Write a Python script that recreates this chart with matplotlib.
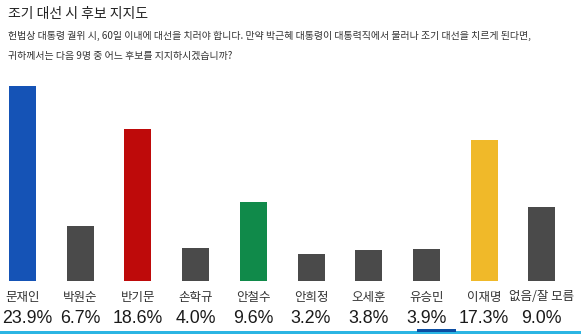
import matplotlib
matplotlib.use("Agg")
import matplotlib.pyplot as plt
from matplotlib.patches import Rectangle
from matplotlib.transforms import blended_transform_factory, offset_copy
from matplotlib import font_manager

categories = ["문재인", "박원순", "반기문", "손학규", "안철수", "안희정", "오세훈", "유승민", "이재명", "없음/잘 모름"]
values = [23.9, 6.7, 18.6, 4.0, 9.6, 3.2, 3.8, 3.9, 17.3, 9.0]
value_labels = ["23.9%", "6.7%", "18.6%", "4.0%", "9.6%", "3.2%", "3.8%", "3.9%", "17.3%", "9.0%"]
bar_colors = ["#1553B6", "#4A4A4A", "#BE0A0A", "#4A4A4A", "#108A4A",
              "#4A4A4A", "#4A4A4A", "#4A4A4A", "#F0B929", "#4A4A4A"]
title = "조기 대선 시 후보 지지도"
subtitle1 = "헌법상 대통령 궐위 시, 60일 이내에 대선을 치러야 합니다. 만약 박근혜 대통령이 대통력직에서 물러나 조기 대선을 치르게 된다면,"
subtitle2 = "귀하께서는 다음 9명 중 어느 후보를 지지하시겠습니까?"

KR = ["Noto Sans CJK KR", "DejaVu Sans"]
names = {f.name for f in font_manager.fontManager.ttflist}
NUM = ["Liberation Sans Narrow"] if "Liberation Sans Narrow" in names else ["Liberation Sans"]

W, H = 581, 334
fig = plt.figure(figsize=(W / 100, H / 100), dpi=100)
fig.patch.set_facecolor("white")

ax_bottom = (H - 280.5) / H
ax_top_px = 80
ax_h = (280.5 - ax_top_px) / H
ax = fig.add_axes([0, ax_bottom, 1, ax_h])
step = 57.7
c0 = 22.5
ax.set_xlim(-c0 / step, (W - c0) / step)
px_per_pct = 8.14
ax.set_ylim(0, (280.5 - ax_top_px) / px_per_pct)
x = list(range(len(categories)))
ax.bar(x, values, width=27 / step, color=bar_colors)
ax.axis("off")

def fy(py):
    return 1 - py / H

tr = blended_transform_factory(ax.transData, fig.transFigure)
val_texts = []
for i, (c, v) in enumerate(zip(categories, value_labels)):
    ax.text(i, fy(297), c, transform=tr, ha="center", va="center",
            fontsize=9.0, color="#333333", family=KR)
    t = ax.text(i, fy(318.5), v, transform=tr, ha="center", va="center",
                fontsize=12.8, color="#1a1a1a", family=NUM)
    val_texts.append(t)

fig.text(8 / W, fy(14), title, ha="left", va="center", fontsize=10,
         color="#222222", family=KR, weight="medium")
fig.text(8 / W, fy(36), subtitle1, ha="left", va="center", fontsize=7.15,
         color="#333333", family=KR)
fig.text(8 / W, fy(56), subtitle2, ha="left", va="center", fontsize=7.15,
         color="#333333", family=KR)

fig.add_artist(Rectangle((0, 0), 1, 3.3 / H, transform=fig.transFigure,
                         color="#2BB5E3", lw=0))
fig.add_artist(Rectangle((417 / W, fy(332)), 39 / W, 3.3 / H, transform=fig.transFigure,
                         color="#0B4DA2", lw=0))

# keep edge labels inside the canvas
fig.canvas.draw()
r = fig.canvas.get_renderer()
for t in val_texts:
    bb = t.get_window_extent(r)
    shift = 0
    if bb.x0 < 2:
        shift = 2 - bb.x0
    elif bb.x1 > W - 2:
        shift = (W - 2) - bb.x1
    if shift:
        t.set_transform(offset_copy(tr, fig=fig, x=shift * 72 / 100, units="points"))

fig.savefig("out.png", dpi=100, facecolor="white")
